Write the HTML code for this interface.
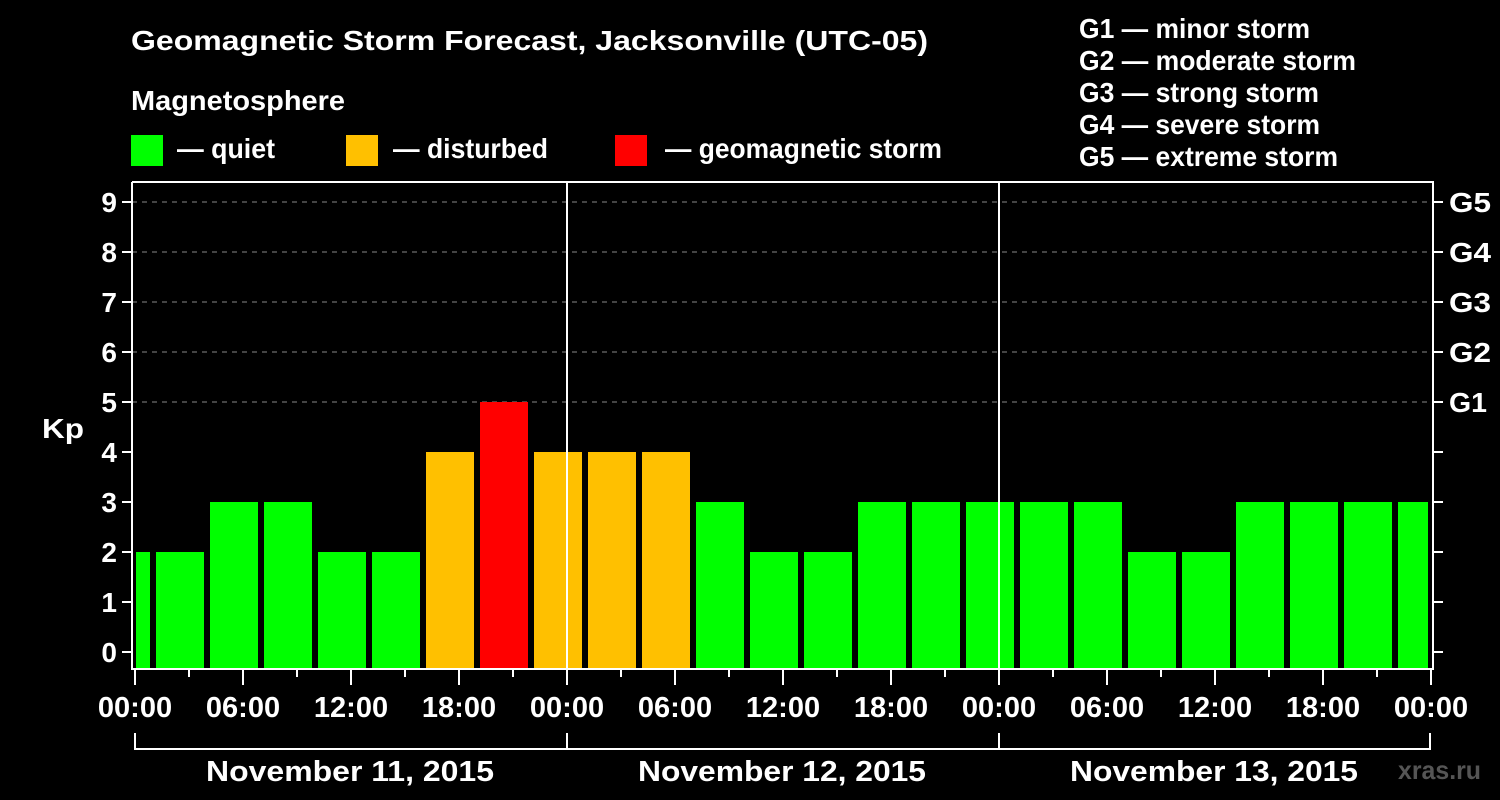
<!DOCTYPE html>
<html><head><meta charset="utf-8"><style>
html,body{margin:0;padding:0;background:#000;}
svg{display:block;font-family:"Liberation Sans",Arial,sans-serif;font-weight:bold;}
</style></head><body>
<svg width="1500" height="800" viewBox="0 0 1500 800" xmlns="http://www.w3.org/2000/svg">
<rect width="1500" height="800" fill="#000"/>
<text x="131" y="50" fill="#fff" font-size="28" textLength="797" lengthAdjust="spacingAndGlyphs">Geomagnetic Storm Forecast, Jacksonville (UTC-05)</text>
<text x="131" y="110" fill="#fff" font-size="28" textLength="214" lengthAdjust="spacingAndGlyphs">Magnetosphere</text>
<rect x="131" y="135" width="32" height="31" fill="#00ff00"/>
<text x="177" y="158" fill="#fff" font-size="28" textLength="98" lengthAdjust="spacingAndGlyphs">— quiet</text>
<rect x="346" y="135" width="32" height="31" fill="#ffc000"/>
<text x="393" y="158" fill="#fff" font-size="28" textLength="155" lengthAdjust="spacingAndGlyphs">— disturbed</text>
<rect x="615" y="135" width="32" height="31" fill="#ff0000"/>
<text x="665" y="158" fill="#fff" font-size="28" textLength="277" lengthAdjust="spacingAndGlyphs">— geomagnetic storm</text>
<g fill="#fff" font-size="28">
<text x="1079" y="38" textLength="231" lengthAdjust="spacingAndGlyphs">G1 — minor storm</text>
<text x="1079" y="70" textLength="277" lengthAdjust="spacingAndGlyphs">G2 — moderate storm</text>
<text x="1079" y="102" textLength="240" lengthAdjust="spacingAndGlyphs">G3 — strong storm</text>
<text x="1079" y="134" textLength="241" lengthAdjust="spacingAndGlyphs">G4 — severe storm</text>
<text x="1079" y="166" textLength="259" lengthAdjust="spacingAndGlyphs">G5 — extreme storm</text>
</g>
<g stroke="#888" stroke-width="1" stroke-dasharray="5,5">
<line x1="132" y1="402" x2="1433" y2="402"/><line x1="132" y1="352" x2="1433" y2="352"/>
<line x1="132" y1="302" x2="1433" y2="302"/><line x1="132" y1="252" x2="1433" y2="252"/>
<line x1="132" y1="202" x2="1433" y2="202"/>
</g>
<g>
<rect x="136" y="552" width="14" height="116" fill="#00ff00"/>
<rect x="156" y="552" width="48" height="116" fill="#00ff00"/>
<rect x="210" y="502" width="48" height="166" fill="#00ff00"/>
<rect x="264" y="502" width="48" height="166" fill="#00ff00"/>
<rect x="318" y="552" width="48" height="116" fill="#00ff00"/>
<rect x="372" y="552" width="48" height="116" fill="#00ff00"/>
<rect x="426" y="452" width="48" height="216" fill="#ffc000"/>
<rect x="480" y="402" width="48" height="266" fill="#ff0000"/>
<rect x="534" y="452" width="48" height="216" fill="#ffc000"/>
<rect x="588" y="452" width="48" height="216" fill="#ffc000"/>
<rect x="642" y="452" width="48" height="216" fill="#ffc000"/>
<rect x="696" y="502" width="48" height="166" fill="#00ff00"/>
<rect x="750" y="552" width="48" height="116" fill="#00ff00"/>
<rect x="804" y="552" width="48" height="116" fill="#00ff00"/>
<rect x="858" y="502" width="48" height="166" fill="#00ff00"/>
<rect x="912" y="502" width="48" height="166" fill="#00ff00"/>
<rect x="966" y="502" width="48" height="166" fill="#00ff00"/>
<rect x="1020" y="502" width="48" height="166" fill="#00ff00"/>
<rect x="1074" y="502" width="48" height="166" fill="#00ff00"/>
<rect x="1128" y="552" width="48" height="116" fill="#00ff00"/>
<rect x="1182" y="552" width="48" height="116" fill="#00ff00"/>
<rect x="1236" y="502" width="48" height="166" fill="#00ff00"/>
<rect x="1290" y="502" width="48" height="166" fill="#00ff00"/>
<rect x="1344" y="502" width="48" height="166" fill="#00ff00"/>
<rect x="1398" y="502" width="30" height="166" fill="#00ff00"/>
</g>
<g stroke="#fff" stroke-width="2" fill="none">
<polyline points="132,182 1433,182 1433,669 132,669 132,182"/>
<line x1="567" y1="182" x2="567" y2="669"/>
<line x1="999" y1="182" x2="999" y2="669"/>
<path d="M135,733V749H1430V733M567,733V749M999,733V749"/>
<path d="M122,652H132M122,602H132M122,552H132M122,502H132M122,452H132M122,402H132M122,352H132M122,302H132M122,252H132M122,202H132"/>
<path d="M1433,652H1443M1433,602H1443M1433,552H1443M1433,502H1443M1433,452H1443M1433,402H1443M1433,352H1443M1433,302H1443M1433,252H1443M1433,202H1443"/>
<path d="M135,669V685M189,669V677M243,669V685M297,669V677M351,669V685M405,669V677M459,669V685M513,669V677M567,669V685M621,669V677M675,669V685M729,669V677M783,669V685M837,669V677M891,669V685M945,669V677M999,669V685M1053,669V677M1107,669V685M1161,669V677M1215,669V685M1269,669V677M1323,669V685M1377,669V677M1431,669V685"/>
</g>
<g fill="#fff" font-size="28" text-anchor="end">
<text x="117" y="662">0</text><text x="117" y="612">1</text><text x="117" y="562">2</text>
<text x="117" y="512">3</text><text x="117" y="462">4</text><text x="117" y="412">5</text>
<text x="117" y="362">6</text><text x="117" y="312">7</text><text x="117" y="262">8</text>
<text x="117" y="212">9</text>
</g>
<text x="42" y="438" fill="#fff" font-size="28" textLength="42" lengthAdjust="spacingAndGlyphs">Kp</text>
<g fill="#fff" font-size="28">
<text x="1449" y="412" textLength="38" lengthAdjust="spacingAndGlyphs">G1</text><text x="1449" y="362" textLength="42" lengthAdjust="spacingAndGlyphs">G2</text><text x="1449" y="312" textLength="42" lengthAdjust="spacingAndGlyphs">G3</text>
<text x="1449" y="262" textLength="42" lengthAdjust="spacingAndGlyphs">G4</text><text x="1449" y="212" textLength="42" lengthAdjust="spacingAndGlyphs">G5</text>
</g>
<g fill="#fff" font-size="29" text-anchor="middle">
<text x="135" y="717">00:00</text><text x="243" y="717">06:00</text><text x="351" y="717">12:00</text>
<text x="459" y="717">18:00</text><text x="567" y="717">00:00</text><text x="675" y="717">06:00</text>
<text x="783" y="717">12:00</text><text x="891" y="717">18:00</text><text x="999" y="717">00:00</text>
<text x="1107" y="717">06:00</text><text x="1215" y="717">12:00</text><text x="1323" y="717">18:00</text>
<text x="1431" y="717">00:00</text>
</g>
<g fill="#fff" font-size="29" text-anchor="middle">
<text x="350" y="781" textLength="288" lengthAdjust="spacingAndGlyphs">November 11, 2015</text>
<text x="782" y="781" textLength="288" lengthAdjust="spacingAndGlyphs">November 12, 2015</text>
<text x="1214" y="781" textLength="288" lengthAdjust="spacingAndGlyphs">November 13, 2015</text>
</g>
<text x="1398" y="779" fill="#555" font-size="26" textLength="83" lengthAdjust="spacingAndGlyphs">xras.ru</text>
</svg>
</body></html>
